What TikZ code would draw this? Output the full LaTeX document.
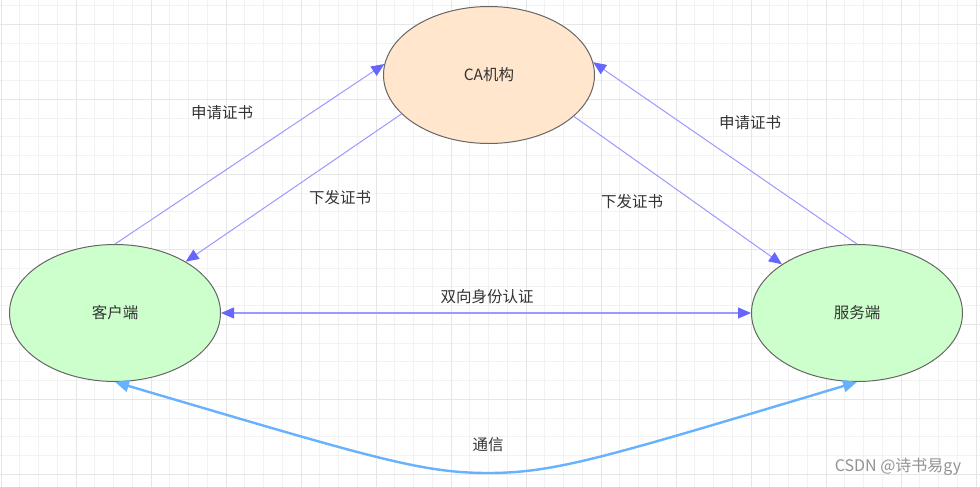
\documentclass[tikz,border=0pt]{standalone}
\usepackage{fontspec}
\setmainfont{Noto Sans CJK SC}
\usetikzlibrary{arrows.meta, shapes.geometric}

\definecolor{gridminor}{HTML}{F2F2F2}
\definecolor{gridmajor}{HTML}{E6E6E6}
\definecolor{caorange}{HTML}{FFE6CC}
\definecolor{endgreen}{HTML}{CCFFCC}
\definecolor{edgegray}{HTML}{666666}
\definecolor{linkblue}{HTML}{9999FF}
\definecolor{tipblue}{HTML}{6666FF}
\definecolor{talkblue}{HTML}{66B2FF}
\definecolor{txt}{HTML}{333333}

\begin{document}
\begin{tikzpicture}[
			x=1pt, y=-1pt,
			party/.style={draw=edgegray, ellipse, line width=1pt, minimum width=211pt, minimum height=137pt, inner sep=0pt, font=\fontsize{15.5}{18}\selectfont, text=txt},
			lbl/.style={font=\fontsize{15.5}{18}\selectfont, text=txt},
			link/.style={draw=linkblue, line width=1pt, -{Triangle[length=13pt,width=11pt,color=tipblue]}},
			twoway/.style={draw=linkblue, line width=1.1pt, {Triangle[length=13pt,width=11pt,color=tipblue]}-{Triangle[length=13pt,width=11pt,color=tipblue]}},
			talk/.style={draw=talkblue, line width=2.4pt, {Triangle[length=14pt,width=12pt]}-{Triangle[length=14pt,width=12pt]}}
			]
			\useasboundingbox (0,0) rectangle (980,487);
			\fill[white] (0,0) rectangle (980,487);
			
			% grid
			\foreach \i in {0,...,52}
				\draw[gridminor, line width=0.8pt] ({1+18.75*\i},0) -- ({1+18.75*\i},487);
			\foreach \j in {-1,...,25}
				\draw[gridminor, line width=0.8pt] (0,{24.3+18.75*\j}) -- (980,{24.3+18.75*\j});
			\foreach \i in {0,...,13}
				\draw[gridmajor, line width=0.9pt] ({1+75*\i},0) -- ({1+75*\i},487);
			\foreach \j in {0,...,6}
				\draw[gridmajor, line width=0.9pt] (0,{24.3+75*\j}) -- (980,{24.3+75*\j});
			
			% parties
			\node[party, fill=caorange] (ca) at (489,75) {CA机构};
			\node[party, fill=endgreen] (client) at (115,313) {客户端};
			\node[party, fill=endgreen] (server) at (857,313) {服务端};
			
			% certificates
			\draw[link] (client.north) -- (ca.174);
			\draw[link] (ca.204) -- (client.36);
			\draw[link] (server.north) -- (ca.7);
			\draw[link] (ca.334) -- (server.147);
			
			\node[lbl] (reqleft) at (222,113) {申请证书};
			\node[lbl] (issleft) at (340,198) {下发证书};
			\node[lbl] (issright) at (632,202) {下发证书};
			\node[lbl] (reqright) at (750,123) {申请证书};
			
			% mutual authentication
			\draw[twoway] (client.east) -- (server.west);
			\node[lbl] (auth) at (487,297) {双向身份认证};
			
			% communication
			\coordinate (low) at (488,473);
			\coordinate (c1) at (370,457);
			\coordinate (c2) at (420,473);
			\coordinate (c3) at (556,473);
			\coordinate (c4) at (606,457);
			\draw[talk] (client.south) .. controls (c1) and (c2) .. (low) .. controls (c3) and (c4) .. (server.south);
			\node[lbl] (talklbl) at (488,445) {通信};
			
			\node[font=\fontsize{16}{18}\selectfont, text=gray!85] (mark) at (898,467) {CSDN @诗书易gy};
		\end{tikzpicture}
\end{document}
